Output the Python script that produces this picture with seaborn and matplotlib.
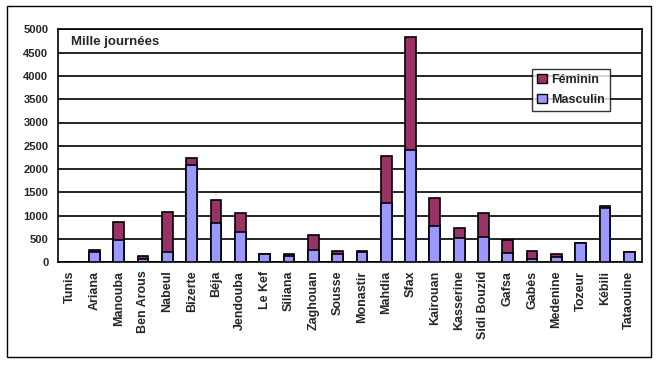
import numpy as np
import pandas as pd
import seaborn as sns
import matplotlib.pyplot as plt
from matplotlib.patches import Rectangle, Patch

# Governorates and values (mille journées)
gouvernorats = ['Tunis', 'Ariana', 'Manouba', 'Ben Arous', 'Nabeul', 'Bizerte', 'Béja',
                'Jendouba', 'Le Kef', 'Siliana', 'Zaghouan', 'Sousse', 'Monastir', 'Mahdia',
                'Sfax', 'Kairouan', 'Kasserine', 'Sidi Bouzid', 'Gafsa', 'Gabès', 'Medenine',
                'Tozeur', 'Kébili', 'Tataouine']
masculin = [0, 215, 478, 64, 215, 2082, 837, 644, 172, 129, 257, 172, 215, 1266,
            2418, 773, 515, 537, 193, 64, 107, 408, 1173, 215]
feminin = [0, 42, 380, 65, 858, 150, 493, 408, 0, 43, 322, 64, 21, 1009,
           2410, 600, 215, 515, 285, 172, 65, 0, 29, 0]

df = pd.DataFrame({'Gouvernorat': gouvernorats, 'Masculin': masculin, 'Féminin': feminin})
df['Total'] = df['Masculin'] + df['Féminin']

col_m = '#9999FF'
col_f = '#993366'

sns.set_style('white')
plt.rcParams['font.family'] = ['Liberation Sans', 'DejaVu Sans']
plt.rcParams['font.weight'] = 'bold'

fig = plt.figure(figsize=(6.59, 3.65), dpi=100)
ax = fig.add_axes([58 / 659, 1 - 262.3 / 365, 583.5 / 659, 233 / 365])

# stacked bars: total first (féminin colour), then masculin on top of it
sns.barplot(data=df, x='Gouvernorat', y='Total', color=col_f, width=0.44,
            edgecolor='black', linewidth=1.2, saturation=1, ax=ax, zorder=3)
sns.barplot(data=df, x='Gouvernorat', y='Masculin', color=col_m, width=0.44,
            edgecolor='black', linewidth=1.2, saturation=1, ax=ax, zorder=4)

ax.set_ylim(0, 5000)
ax.set_xlim(-0.5, len(gouvernorats) - 0.5)
ax.set_yticks(np.arange(0, 5001, 500))
ax.set_yticklabels([str(v) for v in range(0, 5001, 500)], fontsize=8, fontweight='bold')
ax.set_xticks(range(len(gouvernorats)))
ax.set_xticklabels(gouvernorats, rotation=90, fontsize=9, fontweight='bold')
ax.set_xticks(np.arange(-0.5, len(gouvernorats), 1), minor=True)
ax.tick_params(axis='x', which='major', length=0, pad=6)
ax.tick_params(axis='x', which='minor', length=5, width=1, color='black', direction='out')
ax.tick_params(axis='y', length=5, width=1, color='black', direction='out', pad=2)
ax.set_xlabel('')
ax.set_ylabel('')

ax.grid(axis='y', color='black', linewidth=1.2, zorder=0)
ax.set_axisbelow(True)
for s in ax.spines.values():
    s.set_color('black')
    s.set_linewidth(1.2)

ax.text(0.022, 0.945, 'Mille journées', transform=ax.transAxes, fontsize=9.5,
        fontweight='bold', va='center', ha='left', zorder=5,
        bbox=dict(facecolor='white', edgecolor='none', pad=3))

handles = [Patch(facecolor=col_f, edgecolor='black', label='Féminin'),
           Patch(facecolor=col_m, edgecolor='black', label='Masculin')]
leg = ax.legend(handles=handles, loc='upper left', bbox_to_anchor=(0.8125, 0.83),
                borderaxespad=0, frameon=True, fancybox=False, fontsize=9,
                handlelength=0.8, handleheight=0.8, handletextpad=0.3,
                borderpad=0.4, labelspacing=0.6)
leg.get_frame().set_edgecolor('black')
leg.get_frame().set_linewidth(1)
for t in leg.get_texts():
    t.set_fontweight('bold')

# outer chart border
fig.patches.append(Rectangle((7 / 659, 1 - 357 / 365), 644 / 659, 351 / 365,
                             transform=fig.transFigure, fill=False,
                             edgecolor='black', linewidth=1))

fig.savefig('out.png', dpi=100, facecolor='white')
